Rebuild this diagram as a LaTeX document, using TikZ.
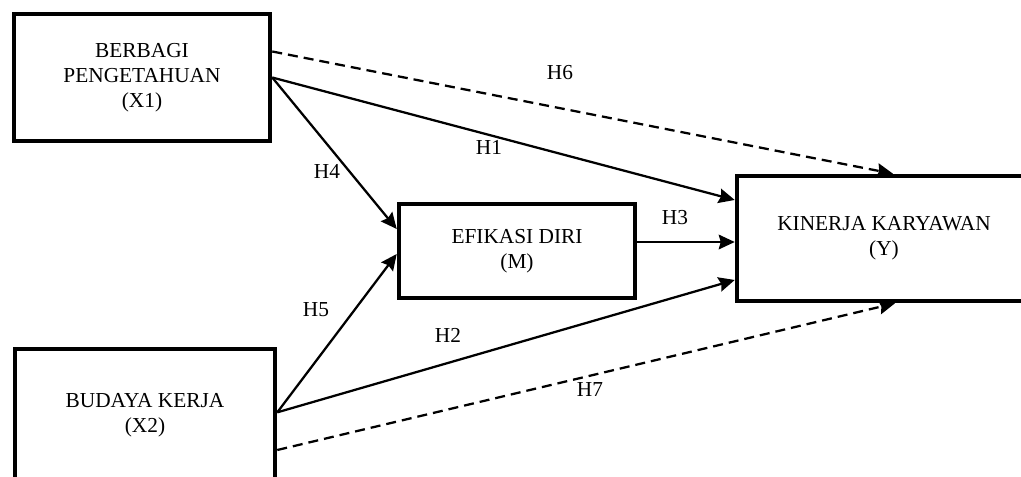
\documentclass[tikz,border=0pt]{standalone}
\usepackage{fontspec}
\setmainfont{Liberation Serif}
\usetikzlibrary{arrows.meta}
\tikzset{
  var/.style={draw=black, line width=3.4pt, fill=white, align=center, inner sep=0pt,
              font=\fontsize{16}{18.75}\selectfont},
  path/.style={line width=1.7pt, -{Stealth[length=12pt,width=11pt,inset=1.5pt]}},
  weak/.style={path, dash pattern=on 7.5pt off 4.5pt},
  hyp/.style={font=\fontsize{16}{18}\selectfont, inner sep=0pt}
}
\begin{document}
\begin{tikzpicture}[x=0.75pt, y=-0.75pt]
  \useasboundingbox (0,0) rectangle (1021,476);
  \clip (0,0) rectangle (1021,476);

  % variables
  \node[var, minimum width=192pt, minimum height=95.25pt] (x1) at (142,77.5)
    {BERBAGI\\PENGETAHUAN\\(X1)};
  \node[var, minimum width=195pt, minimum height=99pt] (x2) at (145,415)
    {BUDAYA KERJA\\(X2)};
  \node[var, minimum width=177pt, minimum height=70.5pt] (m) at (517,251)
    {EFIKASI DIRI\\(M)};
  \node[var, minimum width=220.5pt, minimum height=93.75pt] (y) at (884,238.5)
    {KINERJA KARYAWAN\\(Y)};

  % attachment points
  \coordinate (h6s) at ([yshift=19.5pt]x1.east);
  \coordinate (h7s) at ([yshift=-26.25pt]x2.east);
  \coordinate (m4) at ([yshift=16.5pt]m.west);
  \coordinate (m5) at ([yshift=-2.25pt]m.west);
  \coordinate (h3s) at ([yshift=6.75pt]m.east);
  \coordinate (y1) at ([yshift=28.9pt]y.west);
  \coordinate (y2) at ([yshift=-31.1pt]y.west);
  \coordinate (y6) at ([xshift=6.75pt]y.north);
  \coordinate (y7) at ([xshift=8.25pt]y.south);

  % paths
  \draw[weak] (h6s) -- (y6);
  \draw[path] (x1.east) -- (y1);
  \draw[path] (x1.east) -- (m4);
  \draw[path] ([yshift=2pt]x2.east) -- (m5);
  \draw[path] ([yshift=2pt]x2.east) -- (y2);
  \draw[path] (h3s) -- (h3s -| y.west);
  \draw[weak] (h7s) -- (y7);

  % hypothesis labels
  \node[hyp] (l6) at (560,73) {H6};
  \node[hyp] (l1) at (489,147) {H1};
  \node[hyp] (l4) at (327,171) {H4};
  \node[hyp] (l3) at (675,218) {H3};
  \node[hyp] (l5) at (316,310) {H5};
  \node[hyp] (l2) at (448,335) {H2};
  \node[hyp] (l7) at (590,390) {H7};
\end{tikzpicture}
\end{document}
